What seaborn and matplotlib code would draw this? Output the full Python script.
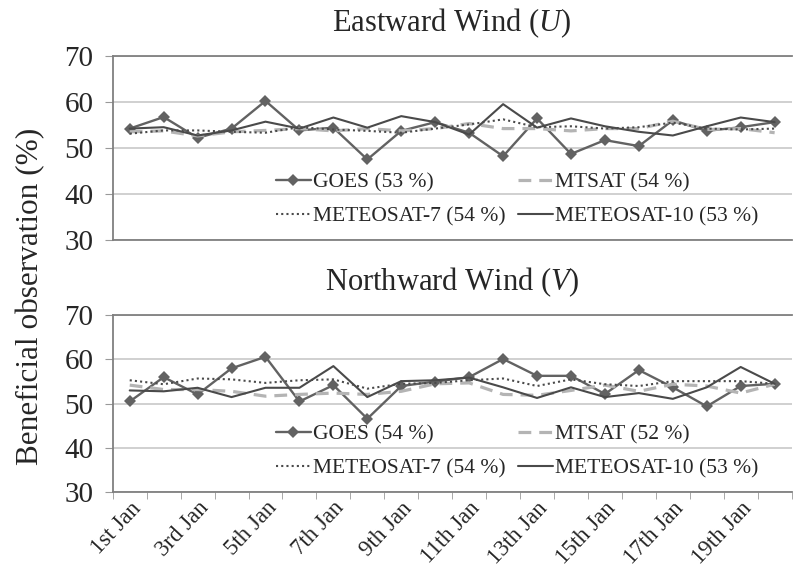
import numpy as np
import pandas as pd
import seaborn as sns
import matplotlib.pyplot as plt

# day labels (20 days in January)
days = ["1st Jan", "2nd Jan", "3rd Jan", "4th Jan", "5th Jan", "6th Jan", "7th Jan",
        "8th Jan", "9th Jan", "10th Jan", "11th Jan", "12th Jan", "13th Jan", "14th Jan",
        "15th Jan", "16th Jan", "17th Jan", "18th Jan", "19th Jan", "20th Jan"]

# Eastward wind (U)
u_goes = [54.2, 56.7, 52.2, 54.2, 60.2, 53.8, 54.4, 47.5, 53.7, 55.6,
          53.3, 48.2, 56.4, 48.7, 51.7, 50.4, 56.0, 53.7, 54.5, 55.6]
u_mtsat = [53.5, 53.7, 52.6, 53.5, 53.8, 54.2, 53.7, 54.2, 53.7, 54.2,
           55.3, 54.2, 54.2, 53.7, 54.2, 54.2, 55.8, 54.0, 54.2, 53.3]
u_met7 = [53.1, 53.8, 53.8, 53.5, 53.3, 54.5, 54.0, 53.7, 53.3, 54.2,
          55.1, 56.2, 54.5, 54.7, 54.2, 54.5, 55.5, 54.2, 54.0, 54.2]
u_met10 = [54.2, 54.5, 52.7, 53.8, 55.7, 54.2, 56.6, 54.4, 56.9, 55.6,
           52.9, 59.5, 54.4, 56.4, 54.7, 53.5, 52.7, 54.7, 56.6, 55.6]

# Northward wind (V)
v_goes = [50.5, 56.0, 52.1, 58.0, 60.6, 50.5, 54.2, 46.6, 54.0, 55.0,
          56.0, 60.1, 56.3, 56.3, 52.2, 57.6, 53.7, 49.4, 54.0, 54.5]
v_mtsat = [54.2, 53.2, 53.2, 52.8, 51.7, 52.1, 52.4, 52.1, 52.8, 54.5,
           54.7, 52.1, 51.9, 53.0, 54.2, 52.8, 54.4, 54.0, 52.4, 54.4]
v_met7 = [55.3, 54.4, 55.7, 55.5, 54.7, 55.3, 55.5, 53.4, 54.5, 54.7,
          55.3, 55.7, 54.0, 55.5, 54.4, 54.0, 55.1, 55.1, 55.1, 54.5]
v_met10 = [53.0, 52.8, 53.6, 51.5, 53.6, 53.6, 58.5, 51.5, 55.1, 55.3,
           55.9, 53.7, 51.3, 53.7, 51.5, 52.4, 51.1, 53.7, 58.3, 54.5]

u_labels = ["GOES (53 %)", "MTSAT (54 %)", "METEOSAT-7 (54 %)", "METEOSAT-10 (53 %)"]
v_labels = ["GOES (54 %)", "MTSAT (52 %)", "METEOSAT-7 (54 %)", "METEOSAT-10 (53 %)"]

sns.set_style("white")
plt.rcParams['font.family'] = ['Liberation Serif', 'DejaVu Serif']
plt.rcParams['mathtext.fontset'] = 'custom'
plt.rcParams['mathtext.rm'] = 'Liberation Serif'
plt.rcParams['mathtext.it'] = 'Liberation Serif:italic'

styles = [
    dict(color="#626262", linestyle="-", marker="D", markersize=6, linewidth=1.7),
    dict(color="#b4b4b4", linestyle=(0, (4, 2.5)), marker=None, linewidth=2.3),
    dict(color="#4a4a4a", linestyle=(0, (1, 1.5)), marker=None, linewidth=1.5),
    dict(color="#4a4a4a", linestyle="-", marker=None, linewidth=1.5),
]

fig = plt.figure(figsize=(7.94, 5.69), dpi=100)
ax_top = fig.add_axes([0.142, 0.578, 0.855, 0.324])
ax_bot = fig.add_axes([0.142, 0.135, 0.855, 0.311])

x = np.arange(len(days))


def draw(ax, series, labels, title):
    for vals, lab, st in zip(series, labels, styles):
        df = pd.DataFrame({"day": x, "value": vals})
        sns.lineplot(data=df, x="day", y="value", ax=ax, label=lab,
                     markeredgewidth=0, **st)
    ax.set_xlim(-0.5, len(days) - 0.5)
    ax.set_ylim(30, 70)
    ax.set_yticks([30, 40, 50, 60, 70])
    ax.yaxis.grid(True, color="#c8c8c8", linewidth=1.2)
    ax.set_axisbelow(True)
    ax.spines["right"].set_visible(False)
    for s in ["top", "left", "bottom"]:
        ax.spines[s].set_color("#808080")
        ax.spines[s].set_linewidth(1.3)
    ax.tick_params(axis="y", labelsize=21, length=6, color="#999999", direction="out", left=True, pad=8)
    ax.set_xlabel("")
    ax.set_ylabel("")
    ax.set_title(title, fontsize=22, pad=18)
    # row-major order like the original: GOES, MTSAT / METEOSAT-7, METEOSAT-10
    h, l = ax.get_legend_handles_labels()
    order = [0, 2, 1, 3]
    ax.legend([h[i] for i in order], [l[i] for i in order],
              loc="lower left", bbox_to_anchor=(0.22, 0.0), ncol=2, frameon=False,
              fontsize=15.5, handlelength=1.6, handletextpad=0.1, columnspacing=0.6,
              labelspacing=0.65, borderaxespad=0.25)


draw(ax_top, [u_goes, u_mtsat, u_met7, u_met10], u_labels, r"Eastward Wind ($\mathit{U}$)")
draw(ax_bot, [v_goes, v_mtsat, v_met7, v_met10], v_labels, r"Northward Wind ($\mathit{V}$)")

ax_top.set_xticks([])
ax_bot.set_xticks(x[::2])
ax_bot.set_xticklabels(days[::2], rotation=47, ha="right", rotation_mode="anchor", fontsize=16.5)
ax_bot.set_xticks(np.arange(-0.5, len(days), 1.0), minor=True)
ax_bot.tick_params(axis="x", which="major", length=0, pad=4)
ax_bot.tick_params(axis="x", which="minor", length=5, color="#999999", direction="out", bottom=True)

fig.text(0.038, 0.48, "Beneficial observation (%)", rotation=90, ha="center", va="center", fontsize=22.5)

fig.savefig("out.png", dpi=100)
